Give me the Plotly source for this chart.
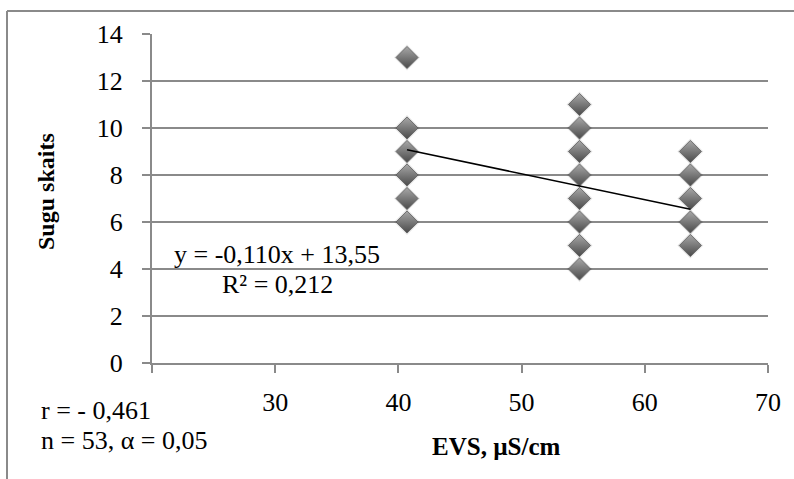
import plotly.graph_objects as go

# ---- data ----
evs_values = [40.7, 40.7, 40.7, 40.7, 40.7, 40.7,
              54.7, 54.7, 54.7, 54.7, 54.7, 54.7, 54.7, 54.7,
              63.7, 63.7, 63.7, 63.7, 63.7]
species_counts = [13, 10, 9, 8, 7, 6,
                  11, 10, 9, 8, 7, 6, 5, 4,
                  9, 8, 7, 6, 5]
trend_slope = -0.110
trend_intercept = 13.55
x_tick_values = [20, 30, 40, 50, 60, 70]
x_tick_labels = ["", "30", "40", "50", "60", "70"]
y_tick_values = [0, 2, 4, 6, 8, 10, 12, 14]

W, H = 794, 479
L, R, T, B = 152, 26, 34, 116
PW, PH = W - L - R, H - T - B


def px_x(p):
    return (p - L) / PW


def px_y(p):
    return (H - B - p) / PH


FONT = "Liberation Serif"
GRAY = "#8a8a8a"

trend_x = [min(evs_values), max(evs_values)]
trend_y = [trend_slope * v + trend_intercept for v in trend_x]

fig = go.Figure()
# soft shadow halo behind the bevelled diamonds
fig.add_trace(go.Scatter(
    x=evs_values, y=species_counts, mode="markers",
    marker=dict(symbol="diamond", size=20, color="rgba(0,0,0,0.10)",
                line=dict(width=0)),
    showlegend=False, hoverinfo="skip"))
fig.add_trace(go.Scatter(
    x=evs_values, y=species_counts, mode="markers",
    marker=dict(symbol="diamond", size=17, color="#a8a8a8",
                gradient=dict(type="vertical", color="#4a4a4a"),
                line=dict(color="#5a5a5a", width=0.8)),
    showlegend=False, hoverinfo="x+y"))
fig.add_trace(go.Scatter(
    x=trend_x, y=trend_y, mode="lines",
    line=dict(color="black", width=1.6), showlegend=False))

fig.update_layout(
    width=W, height=H,
    margin=dict(l=L, r=R, t=T, b=B),
    paper_bgcolor="white", plot_bgcolor="white",
    font=dict(family=FONT, size=25, color="black"),
    xaxis=dict(range=[20, 70], tickvals=x_tick_values, ticktext=x_tick_labels,
               showgrid=False, zeroline=False, showline=True,
               linecolor=GRAY, linewidth=2, ticks="outside", ticklen=8,
               tickwidth=2, tickcolor=GRAY, ticklabelstandoff=7,
               tickfont=dict(family=FONT, size=26, color="black")),
    yaxis=dict(range=[0, 14], tickvals=y_tick_values,
               showgrid=True, gridcolor=GRAY, gridwidth=1.5, zeroline=False,
               showline=True, linecolor=GRAY, linewidth=2, ticks="outside",
               ticklen=8, tickwidth=2, tickcolor=GRAY, ticklabelstandoff=14,
               tickfont=dict(family=FONT, size=26, color="black")),
    shapes=[
        dict(type="line", xref="paper", yref="paper",
             x0=px_x(7), x1=px_x(7), y0=px_y(11), y1=px_y(H + 5),
             line=dict(color=GRAY, width=2)),
        dict(type="line", xref="paper", yref="paper",
             x0=px_x(7), x1=px_x(W + 5), y0=px_y(11), y1=px_y(11),
             line=dict(color=GRAY, width=2)),
    ],
    annotations=[
        dict(text="y = -0,110x + 13,55", x=px_x(277), y=px_y(254),
             xref="paper", yref="paper", xanchor="center", yanchor="middle",
             showarrow=False, font=dict(family=FONT, size=26)),
        dict(text="R² = 0,212", x=px_x(277), y=px_y(284),
             xref="paper", yref="paper", xanchor="center", yanchor="middle",
             showarrow=False, font=dict(family=FONT, size=26)),
        dict(text="r = - 0,461", x=px_x(39), y=px_y(410),
             xref="paper", yref="paper", xanchor="left", yanchor="middle",
             showarrow=False, font=dict(family=FONT, size=26)),
        dict(text="n = 53, α = 0,05", x=px_x(39), y=px_y(440),
             xref="paper", yref="paper", xanchor="left", yanchor="middle",
             showarrow=False, font=dict(family=FONT, size=26)),
        dict(text="<b>EVS, µS/cm</b>", x=px_x(496), y=px_y(446),
             xref="paper", yref="paper", xanchor="center", yanchor="middle",
             showarrow=False, font=dict(family=FONT, size=25)),
        dict(text="<b>Sugu skaits</b>", x=px_x(46), y=px_y(192),
             xref="paper", yref="paper", xanchor="center", yanchor="middle",
             textangle=-90, showarrow=False, font=dict(family=FONT, size=24)),
    ],
)

fig.write_html("out.html")
